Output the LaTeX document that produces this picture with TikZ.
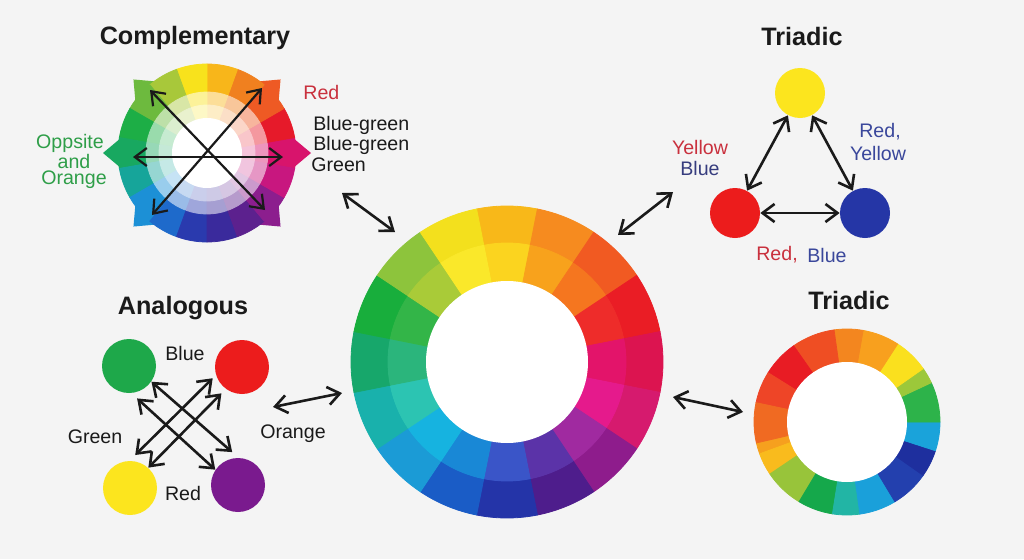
\documentclass[tikz,border=0pt]{standalone}
\usepackage{fontspec}
\setmainfont{Liberation Sans}
\usetikzlibrary{arrows.meta}
\tikzset{
  every picture/.style={line join=round, line cap=round, >={Straight Barb[length=6pt,width=9pt]}},
  heading/.style={font=\bfseries\fontsize{12.6}{14}\selectfont, text=ink},
  lbl/.style={font=\fontsize{9.8}{11}\selectfont, inner sep=0pt, text=ink},
  link/.style={<->, line width=1.3pt, draw=ink},
  dot/.style={circle, minimum size=25pt, inner sep=0pt},
  bigdot/.style={circle, minimum size=27pt, inner sep=0pt},
}
\definecolor{bgc}{HTML}{F4F4F4}
\definecolor{ink}{HTML}{1A1A1A}
\definecolor{labred}{HTML}{C9303D}
\definecolor{labgreen}{HTML}{2E9E48}
\definecolor{labblue}{HTML}{3A479B}
\definecolor{labnavy}{HTML}{363C7E}
\definecolor{dyellow}{HTML}{FCE51E}
\definecolor{dred}{HTML}{EC1C1C}
\definecolor{dblue}{HTML}{2536A6}
\definecolor{dgreen}{HTML}{1EA84A}
\definecolor{dpurple}{HTML}{7A1A8E}

\begin{document}
\begin{tikzpicture}[x=0.5pt, y=0.5pt]
\fill[bgc] (0,0) rectangle (1024,559);
\useasboundingbox (0,0) rectangle (1024,559);

% main wheel, 16 segments clockwise from the top
\begin{scope}[shift={(507,197)}]
\foreach \oc/\ic [count=\k from 0] in {F8B819/FBD41F, F68B1F/F8A21C, F15A22/F5761F, EA1D25/EE2C2A,
    DC1450/E3146A, D61A6E/E51A8C, 8E1C8C/A02AA0, 4E1D8C/5B33A8, 2434A8/3A55C8, 1A5CC6/1988D6,
    1B9BD6/16B3E0, 19B1AC/2CC4B2, 17A76B/2BB57C, 18AE3C/33B548, 8DC43C/A9CB38, F3E01D/FAE82A}{
  \pgfmathsetmacro\a{90-22.5*\k}
  \definecolor{segout}{HTML}{\oc}
  \definecolor{segin}{HTML}{\ic}
  \filldraw[segout, line width=0.4pt] (\a-11.25:156) arc[start angle=\a-11.25, end angle=\a+11.25, radius=156]
    -- (\a+11.25:119) arc[start angle=\a+11.25, end angle=\a-11.25, radius=119] -- cycle;
  \filldraw[segin, line width=0.4pt] (\a-11.25:119) arc[start angle=\a-11.25, end angle=\a+11.25, radius=119]
    -- (\a+11.25:81) arc[start angle=\a+11.25, end angle=\a-11.25, radius=81] -- cycle;
}
\fill[white] (0,0) circle[radius=81];
\end{scope}

% complementary wheel
\node[heading] (comptitle) at (195,521) {Complementary};
\begin{scope}[shift={(207,406)}]
\foreach \a/\c in {0/D8146C, 45/EE5A24, 135/6DBA3E, 180/18A860, 225/1C90D6, 315/8C1E8E}{
  \definecolor{spk}{HTML}{\c}
  \fill[spk] (\a-11:86) -- (\a:104) -- (\a+11:86) -- cycle;
}
\foreach \c [count=\k from 0] in {D8146C, E61A2A, EE5A24, F0801F, F8B61A, F8E21C, A8C83A, 6DBA3E, 1DAE46,
    18A860, 16A59A, 1C90D6, 1E6ACB, 2A3AAE, 3A2A9C, 5C218E, 8C1E8E, C8177F}{
  \pgfmathsetmacro\a{20*\k}
  \definecolor{seg}{HTML}{\c}
  \filldraw[seg, line width=0.4pt] (\a-10:89) arc[start angle=\a-10, end angle=\a+10, radius=89]
    -- (\a+10:61) arc[start angle=\a+10, end angle=\a-10, radius=61] -- cycle;
  \filldraw[seg!45!white, line width=0.4pt] (\a-10:61) arc[start angle=\a-10, end angle=\a+10, radius=61]
    -- (\a+10:48) arc[start angle=\a+10, end angle=\a-10, radius=48] -- cycle;
  \filldraw[seg!25!white, line width=0.4pt] (\a-10:48) arc[start angle=\a-10, end angle=\a+10, radius=48]
    -- (\a+10:35) arc[start angle=\a+10, end angle=\a-10, radius=35] -- cycle;
}
\fill[white] (0,0) circle[radius=35];
\end{scope}
\coordinate (cUL) at (150,469);
\coordinate (cLR) at (265,349);
\coordinate (cUR) at (262,471);
\coordinate (cLL) at (152,344);
\coordinate (cL) at (133,402);
\coordinate (cR) at (283,402);
\draw[link, line width=1.1pt] (cUL) -- (cLR);
\draw[link, line width=1.1pt] (cUR) -- (cLL);
\draw[link, line width=1.1pt] (cL) -- (cR);
\node[lbl, text=labred, anchor=west] (cred) at (303,467) {Red};
\node[lbl, anchor=west] (cbg1) at (313,434) {Blue-green};
\node[lbl, anchor=west] (cbg2) at (313,414) {Blue-green};
\node[lbl, anchor=west] (cgrn) at (311,394) {Green};
\node[lbl, text=labgreen] (copp) at (70,416) {Oppsite};
\node[lbl, text=labgreen] (cand) at (74,398) {and};
\node[lbl, text=labgreen] (cora) at (74,379) {Orange};

% triadic, circles
\node[heading] (tritop) at (802,523) {Triadic};
\node[dot, fill=dyellow] (tY) at (800,466) {};
\node[dot, fill=dred] (tR) at (735,346) {};
\node[dot, fill=dblue] (tB) at (865,346) {};
\draw[link] (tY) -- (tR);
\draw[link] (tY) -- (tB);
\draw[link] (tR) -- (tB);
\node[lbl, text=labred] (tyl) at (700,412) {Yellow};
\node[lbl, text=labnavy] (tbl) at (700,391) {Blue};
\node[lbl, text=labblue] (trr) at (880,427) {Red,};
\node[lbl, text=labblue] (tyr) at (878,406) {Yellow};
\node[lbl, text=labred] (trb) at (777,304) {Red,};
\node[lbl, text=labblue] (tbb) at (827,304) {Blue};

% analogous
\node[heading] (anatitle) at (183,251) {Analogous};
\node[bigdot, fill=dgreen] (aG) at (129,193) {};
\node[bigdot, fill=dred] (aR) at (242,192) {};
\node[bigdot, fill=dyellow] (aY) at (130,71) {};
\node[bigdot, fill=dpurple] (aP) at (238,74) {};
\draw[link] (aG.-35) -- ([shift={(100:6)}]aP.100);
\draw[link] ([shift={(-76:6)}]aG.-76) -- (aP.146);
\draw[link] ([shift={(201:4)}]aR.201) -- ([shift={(81:6)}]aY.81);
\draw[link] ([shift={(232:6)}]aR.232) -- (aY.48);
\node[lbl] (ablue) at (185,206) {Blue};
\node[lbl] (agreen) at (95,122) {Green};
\node[lbl] (ared) at (183,66) {Red};
\node[lbl] (aorange) at (293,125) {Orange};

% triadic, ring
\node[heading] (tribot) at (849,259) {Triadic};
\begin{scope}[shift={(847,137)}]
\foreach \s/\e/\c in {-167/-160/F6A01E, -160/-146/F9BB1D, -146/-121/98C43A, -121/-99/15A84B,
    -99/-82/22B5A5, -82/-59/1AA0DA, -59/-35/2340AE, -35/-18/1E2F9E, -18/0/1AA3DA, 0/25/2DB34A,
    25/35/9CC83A, 35/57/FAE01E, 57/80/F8A01E, 80/98/F3861F, 98/125/EF4E23, 125/148/E81C24,
    148/168/EE4527, 168/193/F06A22}{
  \definecolor{seg}{HTML}{\c}
  \filldraw[seg, line width=0.4pt] (\s:93) arc[start angle=\s, end angle=\e, radius=93]
    -- (\e:60) arc[start angle=\e, end angle=\s, radius=60] -- cycle;
}
\fill[white] (0,0) circle[radius=60];
\end{scope}

% links to the main wheel
\coordinate (lTL) at (342,366);
\coordinate (wTL) at (395,327);
\coordinate (lTR) at (673,367);
\coordinate (wTR) at (618,324);
\coordinate (lL) at (273,152);
\coordinate (wL) at (342,166);
\coordinate (lR) at (743,147);
\coordinate (wR) at (673,162);
\draw[link] (lTL) -- (wTL);
\draw[link] (lTR) -- (wTR);
\draw[link] (lL) -- (wL);
\draw[link] (lR) -- (wR);
\end{tikzpicture}
\end{document}
